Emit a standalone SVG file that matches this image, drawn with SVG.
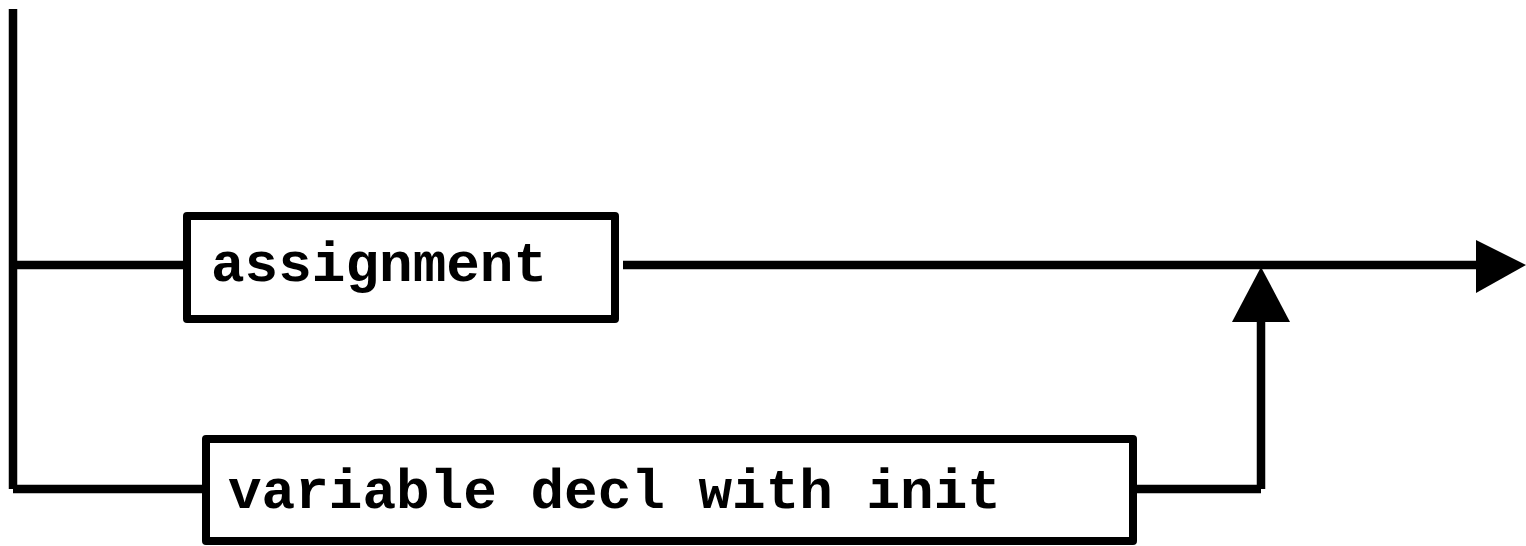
<svg xmlns="http://www.w3.org/2000/svg" width="1526" height="546" viewBox="0 0 1526 546">
  <style>
    .wire { fill: none; stroke: #000; stroke-width: 8.5; stroke-linecap: butt; }
    .box { fill: #fff; stroke: #000; stroke-width: 8; stroke-linejoin: round; }
    .label { font-family: "Liberation Mono", "Courier New", monospace; font-weight: bold; font-size: 56px; fill: #000; }
    .head { fill: #000; }
  </style>
  <rect width="1526" height="546" fill="#fff"/>

  <!-- connectors -->
  <g id="connectors">
    <!-- left rail with branches into both alternatives -->
    <line class="wire" x1="13" y1="9" x2="13" y2="489"/>
    <line class="wire" x1="13" y1="489" x2="206" y2="489"/>
    <line class="wire" x1="13" y1="265" x2="187" y2="265"/>
    <!-- main line from the first alternative to the exit -->
    <line class="wire" x1="623" y1="265" x2="1478" y2="265"/>
    <polygon class="head" points="1476,240 1526,265 1476,293"/>
    <!-- second alternative joining the main line -->
    <line class="wire" x1="1133" y1="489" x2="1261" y2="489"/>
    <line class="wire" x1="1261" y1="489" x2="1261" y2="320"/>
    <polygon class="head" points="1261,267 1290,322 1232,322"/>
  </g>

  <g id="node-assignment">
    <rect class="box" x="187" y="216" width="428" height="103"/>
    <text class="label" x="211" y="281">assignment</text>
  </g>

  <g id="node-variable-decl">
    <rect class="box" x="206" y="439" width="927" height="102"/>
    <text class="label" x="228" y="508">variable decl with init</text>
  </g>
</svg>
